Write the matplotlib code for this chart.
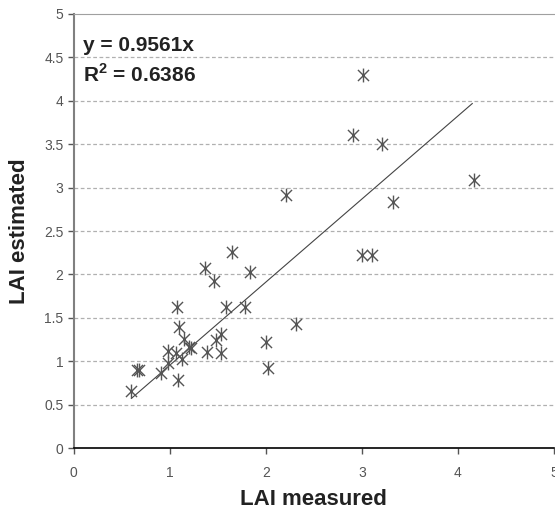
import matplotlib.pyplot as plt
from matplotlib.path import Path

# LAI measured vs estimated
lai_measured = [0.60, 0.66, 0.68, 0.91, 0.98, 0.98, 1.06, 1.07, 1.10, 1.09, 1.13, 1.15,
                1.20, 1.22, 1.37, 1.39, 1.46, 1.48, 1.53, 1.53, 1.58, 1.65, 1.78, 1.84,
                2.00, 2.02, 2.21, 2.31, 2.91, 3.01, 3.00, 3.11, 3.21, 3.32, 4.17]
lai_estimated = [0.66, 0.90, 0.90, 0.87, 0.98, 1.12, 1.10, 1.63, 1.39, 0.78, 1.03, 1.26,
                 1.16, 1.15, 2.07, 1.11, 1.92, 1.24, 1.32, 1.10, 1.63, 2.26, 1.62, 2.03,
                 1.22, 0.92, 2.91, 1.43, 3.60, 4.30, 2.22, 2.22, 3.50, 2.83, 3.09]
slope = 0.9561
r2 = 0.6386
fit_range = [0.6, 4.15]
x_ticks = [0, 1, 2, 3, 4, 5]
y_ticks = [0, 0.5, 1, 1.5, 2, 2.5, 3, 3.5, 4, 4.5, 5]

plt.rcParams['font.family'] = ['Liberation Sans', 'DejaVu Sans']
plt.rcParams['mathtext.fontset'] = 'custom'
plt.rcParams['mathtext.rm'] = 'Liberation Sans'
plt.rcParams['mathtext.bf'] = 'Liberation Sans:bold'

# Excel style asterisk: vertical bar plus an X
star = Path([(0, -1), (0, 1), (-0.8, -0.8), (0.8, 0.8), (-0.8, 0.8), (0.8, -0.8)],
            [Path.MOVETO, Path.LINETO, Path.MOVETO, Path.LINETO, Path.MOVETO, Path.LINETO])

fig = plt.figure(figsize=(5.55, 5.14), dpi=100)
ax = fig.add_axes([0.133, 0.128, 0.865, 0.845])

for y in y_ticks[1:-1]:
    ax.axhline(y, color='#b0b0b0', lw=0.9, ls=(0, (3, 2)), zorder=0)

ax.plot(lai_measured, lai_estimated, ls='none', marker=star, ms=10,
        mec='#555555', mew=1.0, zorder=3)
ax.plot(fit_range, [slope * v for v in fit_range], color='#444444', lw=0.8, zorder=2)

ax.set_xlim(0, 5)
ax.set_ylim(0, 5)
ax.set_xticks(x_ticks)
ax.set_yticks(y_ticks)
ax.set_xticklabels([str(v) for v in x_ticks])
ax.set_yticklabels(['0', '0.5', '1', '1.5', '2', '2.5', '3', '3.5', '4', '4.5', '5'])
ax.tick_params(axis='both', labelsize=10, labelcolor='#555555', color='#555555',
               direction='out', length=4, width=1)
ax.tick_params(axis='x', pad=9)

ax.spines['right'].set_visible(False)
ax.spines['top'].set_color('#a0a0a0')
ax.spines['left'].set_color('#808080')
ax.spines['left'].set_linewidth(1.5)
ax.spines['bottom'].set_color('black')
ax.spines['bottom'].set_linewidth(1.2)

ax.set_xlabel('LAI measured', fontsize=16, fontweight='bold', color='#222222', labelpad=6)
ax.set_ylabel('LAI estimated', fontsize=16, fontweight='bold', color='#222222', labelpad=10)

ax.text(0.1, 4.64, 'y = %.4fx' % slope, fontsize=15, fontweight='bold',
        color='#222222', va='center')
ax.text(0.1, 4.30, r'R$^\mathbf{2}$ = %.4f' % r2, fontsize=15, fontweight='bold',
        color='#222222', va='center')

fig.savefig('out.png', dpi=100)
